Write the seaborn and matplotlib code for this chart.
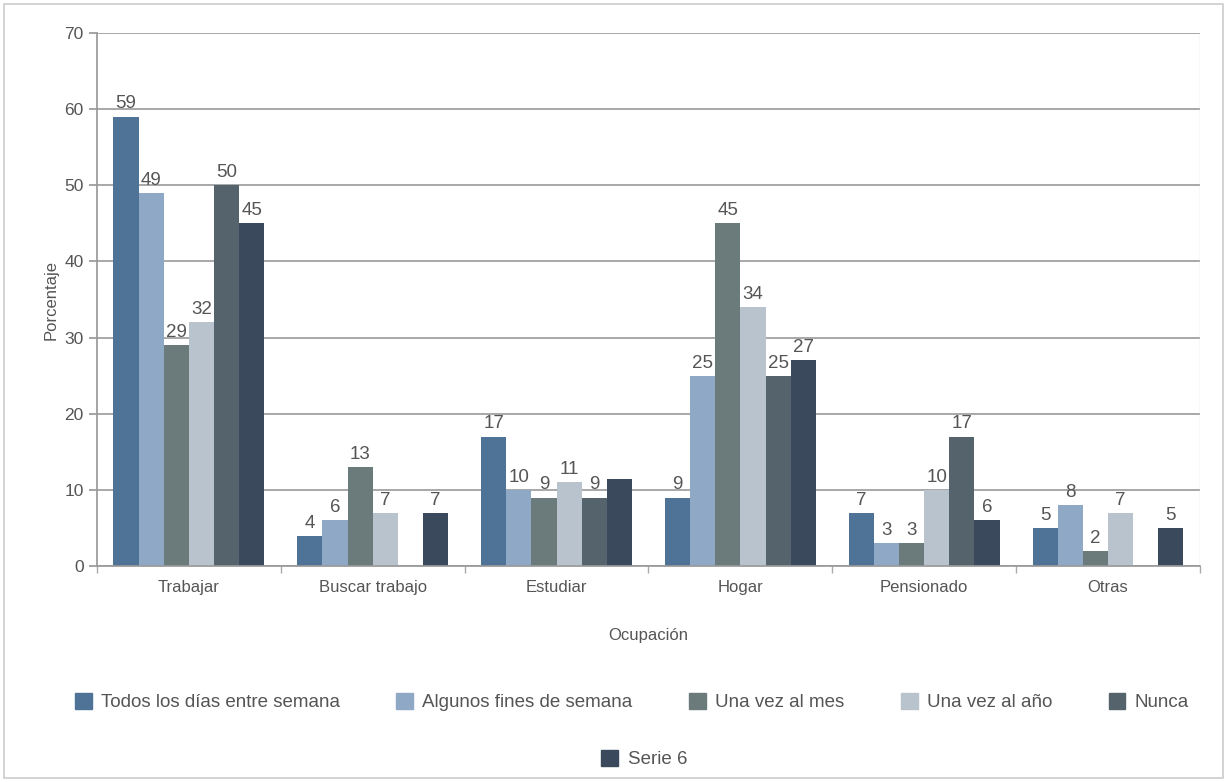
#!/usr/bin/env python3
# Ocupacion vs frecuencia - grouped bar chart

import pandas as pd
import numpy as np
import matplotlib
matplotlib.use('Agg')
import matplotlib.pyplot as plt
import seaborn as sns

# Data
categories = ['Trabajar', 'Buscar trabajo', 'Estudiar', 'Hogar', 'Pensionado', 'Otras']
series = ['Todos los días entre semana', 'Algunos fines de semana', 'Una vez al mes',
          'Una vez al año', 'Nunca', 'Serie 6']

todos_dias = [59, 4, 17, 9, 7, 5]
fines_semana = [49, 6, 10, 25, 3, 8]
vez_mes = [29, 13, 9, 45, 3, 2]
vez_anio = [32, 7, 11, 34, 10, 7]
nunca = [50, np.nan, 9, 25, 17, np.nan]
serie6 = [45, 7, 11.4, 27, 6, 5]

# Label shown above each bar of Serie 6 (None = no label)
labels_serie6 = ['45', '7', None, '27', '6', '5']

colors = ['#4f7396', '#8fa8c5', '#6b7b7c', '#b8c3ce', '#55646c', '#3a4a5c']

sns.set_theme(style='white')
plt.rcParams['font.family'] = ['Liberation Sans', 'DejaVu Sans']

values = [todos_dias, fines_semana, vez_mes, vez_anio, nunca, serie6]
df = pd.DataFrame({
    'ocupacion': np.tile(categories, len(series)),
    'serie': np.repeat(series, len(categories)),
    'valor': np.concatenate(values),
})

fig = plt.figure(figsize=(12.27, 7.82), dpi=100)
ax = fig.add_axes([0.079, 0.276, 0.899, 0.682])

sns.barplot(data=df, x='ocupacion', y='valor', hue='serie', order=categories,
            hue_order=series, palette=colors, width=0.82, saturation=1,
            linewidth=0, ax=ax, legend=False)

ax.set_ylim(0, 70)
ax.set_yticks(range(0, 71, 10))
ax.yaxis.grid(True, color='#999999', linewidth=1.2)
ax.set_axisbelow(True)
for side in ['top', 'right']:
    ax.spines[side].set_visible(False)
ax.spines['left'].set_color('#999999')
ax.spines['bottom'].set_color('#999999')
ax.axvline(len(categories) - 0.5, color='#dddddd', linewidth=1)

ax.tick_params(axis='y', length=6, color='#999999', colors='#555555', labelsize=12.5, left=True)
ax.tick_params(axis='x', length=0, colors='#555555', labelsize=12, pad=10)
ax.set_xticks(np.arange(-0.5, len(categories), 1), minor=True)
ax.tick_params(axis='x', which='minor', length=5, color='#aaaaaa', bottom=True)
ax.set_xlim(-0.5, len(categories) - 0.5)

ax.set_ylabel('Porcentaje', color='#555555', fontsize=12)
ax.set_xlabel('Ocupación', color='#555555', fontsize=12, labelpad=24)

# Value labels, matched to bars by category position
all_labels = []
for vals in values[:-1]:
    all_labels.append([None if np.isnan(v) else f'{v:.0f}' for v in np.array(vals, dtype=float)])
all_labels.append(labels_serie6)
for cont, labs in zip(ax.containers, all_labels):
    for bar in cont:
        if bar is None:
            continue
        xc = bar.get_x() + bar.get_width() / 2
        lab = labs[int(round(xc))]
        if lab is None:
            continue
        ax.annotate(lab, (xc, bar.get_height()), xytext=(0, 3), textcoords='offset points',
                    ha='center', va='bottom', fontsize=13.5, color='#555555')

# Legend below the chart, two rows
handles = [plt.Rectangle((0, 0), 1, 1, color=c) for c in colors]
fig.legend(handles[:5], series[:5], loc='center', bbox_to_anchor=(0.515, 0.102),
           ncol=5, frameon=False, fontsize=13.5, handlelength=0.9, handleheight=0.9,
           columnspacing=3.0, handletextpad=0.5, labelcolor='#555555')
fig.legend(handles[5:], series[5:], loc='center', bbox_to_anchor=(0.525, 0.029),
           frameon=False, fontsize=13.5, handlelength=0.9, handleheight=0.9,
           handletextpad=0.5, labelcolor='#555555')

# Outer frame
fig.patches.append(plt.Rectangle((0.003, 0.005), 0.994, 0.99, transform=fig.transFigure,
                                 fill=False, edgecolor='#cccccc', linewidth=1.2))

plt.savefig('out.png', dpi=100)
